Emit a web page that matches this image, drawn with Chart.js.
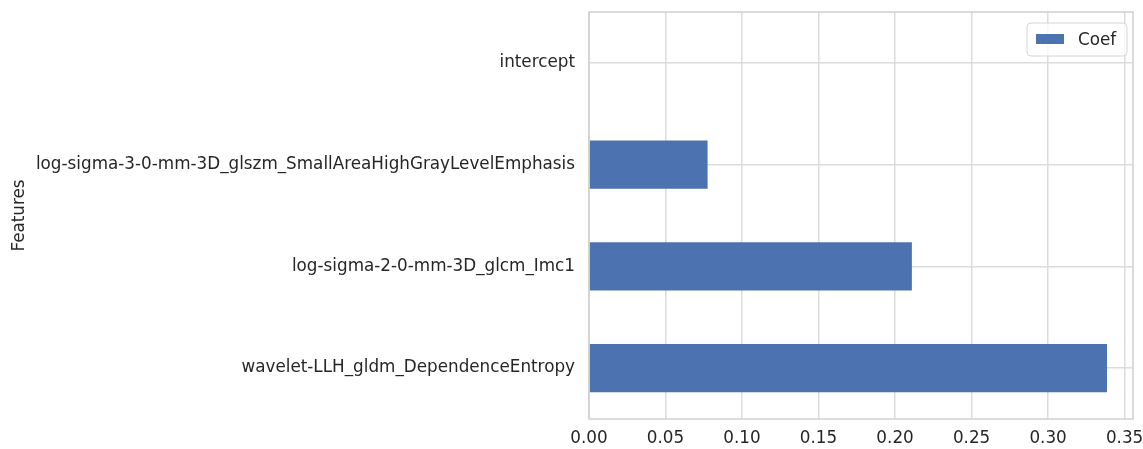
<!DOCTYPE html>
<html>
<head>
<meta charset="utf-8">
<script src="https://cdn.jsdelivr.net/npm/chart.js@4.4.1/dist/chart.umd.min.js"></script>
<style>
  html, body { margin: 0; padding: 0; background: #ffffff; }
  #wrap { width: 1143px; height: 449px; position: relative; }
</style>
</head>
<body>
<div id="wrap"><canvas id="coefChart"></canvas></div>
<script>
const features = [
  "intercept",
  "log-sigma-3-0-mm-3D_glszm_SmallAreaHighGrayLevelEmphasis",
  "log-sigma-2-0-mm-3D_glcm_Imc1",
  "wavelet-LLH_gldm_DependenceEntropy"
];
const coefs = [0, 0.0775, 0.211, 0.3385];
const xTicks = [0, 0.05, 0.10, 0.15, 0.20, 0.25, 0.30, 0.35];

const barColor = "#4c72b0";
const gridColor = "#dcdcdc";
const textColor = "#262626";
const fontFamily = "\"DejaVu Sans\", sans-serif";

Chart.defaults.font.family = fontFamily;
Chart.defaults.font.size = 16.8;
Chart.defaults.color = textColor;

// frame round the plot and the boxed legend in the top right corner
const framePlugin = {
  id: "frame",
  afterDraw(chart) {
    const { ctx, chartArea } = chart;
    ctx.save();
    ctx.strokeStyle = "#cfcfcf";
    ctx.lineWidth = 1.5;
    ctx.strokeRect(chartArea.left, chartArea.top, chartArea.right - chartArea.left, chartArea.bottom - chartArea.top);

    const ds = chart.data.datasets[0];
    const boxW = 100, boxH = 33;
    const bx = chartArea.right - 6 - boxW;
    const by = chartArea.top + 11;
    ctx.beginPath();
    ctx.roundRect(bx, by, boxW, boxH, 4);
    ctx.fillStyle = "rgba(255,255,255,0.8)";
    ctx.fill();
    ctx.strokeStyle = "#d6d6d6";
    ctx.lineWidth = 1;
    ctx.stroke();
    ctx.fillStyle = ds.backgroundColor;
    ctx.fillRect(bx + 9, by + 11, 28, 10);
    ctx.fillStyle = textColor;
    ctx.font = "16.8px " + fontFamily;
    ctx.textBaseline = "middle";
    ctx.fillText(ds.label, bx + 51, by + boxH / 2 + 1);
    ctx.restore();
  }
};

new Chart(document.getElementById("coefChart"), {
  type: "bar",
  data: {
    labels: features,
    datasets: [{
      label: "Coef",
      data: coefs,
      backgroundColor: barColor,
      borderWidth: 0,
      barPercentage: 0.5,
      categoryPercentage: 0.95
    }]
  },
  options: {
    indexAxis: "y",
    responsive: true,
    maintainAspectRatio: false,
    animation: false,
    layout: { padding: { top: 12, right: 10, left: 10, bottom: 0 } },
    plugins: {
      legend: { display: false },
      tooltip: { enabled: false }
    },
    scales: {
      x: {
        min: 0,
        max: 0.3555,
        grid: { color: gridColor, lineWidth: 1.5, drawTicks: false },
        border: { display: false },
        ticks: {
          padding: 10,
          color: textColor,
          callback(value) {
            return Number(value).toFixed(2);
          }
        },
        afterBuildTicks(scale) {
          scale.ticks = xTicks.map((v) => ({ value: v }));
        },
        afterFit(scale) {
          scale.height = 30;
          scale.paddingLeft = 0;
          scale.paddingRight = 0;
        }
      },
      y: {
        grid: { color: gridColor, lineWidth: 1.5, drawTicks: false, offset: false },
        border: { display: false },
        ticks: { padding: 14, color: textColor },
        title: {
          display: true,
          text: "Features",
          color: textColor,
          padding: { top: 0, bottom: 0 }
        },
        afterFit(scale) {
          scale.width = 579;
          scale.paddingTop = 0;
          scale.paddingBottom = 0;
        }
      }
    }
  },
  plugins: [framePlugin]
});
</script>
</body>
</html>
